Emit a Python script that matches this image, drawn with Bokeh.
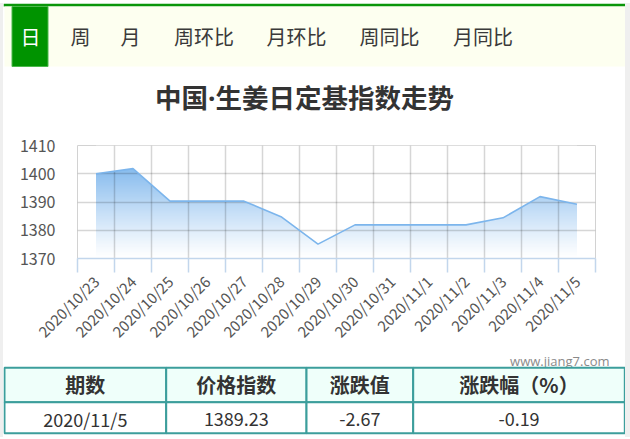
import math
import numpy as np
from bokeh.plotting import figure
from bokeh.layouts import column
from bokeh.models import Range1d, FixedTicker, LinearAxis, Grid
from bokeh.core.properties import value
from bokeh.embed import file_html
from bokeh.resources import INLINE

# ---------------- data ----------------
dates = ["2020/10/23", "2020/10/24", "2020/10/25", "2020/10/26", "2020/10/27",
         "2020/10/28", "2020/10/29", "2020/10/30", "2020/10/31", "2020/11/1",
         "2020/11/2", "2020/11/3", "2020/11/4", "2020/11/5"]
index_values = [1400.0, 1401.8, 1390.3, 1390.3, 1390.3, 1384.8, 1375.1,
                1381.9, 1381.9, 1381.9, 1381.9, 1384.4, 1391.90, 1389.23]
y_ticks = [1370, 1380, 1390, 1400, 1410]
tab_labels = ["日", "周", "月", "周环比", "月环比", "周同比", "月同比"]
title_text = "中国·生姜日定基指数走势"
table_headers = ["期数", "价格指数", "涨跌值", "涨跌幅（%）"]
table_row = ["2020/11/5", "1389.23", "-2.67", "-0.19"]
watermark = "www.jiang7.com"

# ---------------- layout / style ----------------
FONT = "Noto Sans CJK SC"
W = 622
GREEN = "#0a960a"
HDR_H = 122
CH_H = 226
TB_H = 86
FRAME_L, FRAME_R, FRAME_T, FRAME_H = 74, 30, 20, 113

def blank(fig):
    fig.grid.visible = False
    fig.outline_line_color = None
    fig.background_fill_color = "white"
    fig.border_fill_color = "white"

# ---- header: tabs + title ----
hdr = figure(width=W, height=HDR_H, x_range=Range1d(0, W), y_range=Range1d(HDR_H, 0),
             output_backend="svg", toolbar_location=None, min_border=0,
             x_axis_location=None, y_axis_location=None, frame_align=False)
blank(hdr)
hdr.quad(left=[0], right=[W], top=[0], bottom=[3], fill_color=GREEN, line_color=None)
hdr.quad(left=[1], right=[W], top=[3], bottom=[63], fill_color="#fdfff0", line_color=None)
hdr.quad(left=[8.5], right=[44.5], top=[3], bottom=[63], fill_color="#009300",
         line_color="#4cb84c", line_width=1)
tab_x = [27, 77, 127, 200.5, 293, 386, 479.5]
tab_colors = ["white"] + ["#3a3a3a"] * (len(tab_labels) - 1)
hdr.text(x=tab_x, y=[33] * len(tab_labels), text=tab_labels, text_align="center",
         text_baseline="middle", text_font=value(FONT), text_font_size="20px",
         text_color=tab_colors)
hdr.text(x=[301], y=[94.5], text=[title_text], text_align="center", text_baseline="middle",
         text_font=value("Noto Sans, Noto Sans CJK SC"), text_font_size="26.5px",
         text_font_style="bold", text_color="#333333")

# ---- chart ----
n = len(dates)
xs = [i + 0.5 for i in range(n)]
ch = figure(width=W, height=CH_H, x_range=Range1d(0, n), y_range=Range1d(y_ticks[0], y_ticks[-1]),
            output_backend="svg", toolbar_location=None,
            x_axis_location=None, y_axis_location=None, frame_align=False,
            min_border_left=FRAME_L, min_border_right=FRAME_R, min_border_top=FRAME_T,
            min_border_bottom=CH_H - FRAME_T - FRAME_H)
ch.grid.visible = False
ch.background_fill_color = "white"
ch.border_fill_color = "white"
ch.outline_line_color = "#d2d2d2"

# gradient fill under the curve: gradient image masked above the line
ymax = max(index_values)
rows = 256
t = np.linspace(0.0, 1.0, rows)
img = np.zeros((rows, 1), dtype=np.uint32)
view = img.view(dtype=np.uint8).reshape((rows, 1, 4))
view[:, 0, 0] = 124
view[:, 0, 1] = 181
view[:, 0, 2] = 236
view[:, 0, 3] = (np.clip(t, 0, 1) ** 1.1 * 235).astype(np.uint8)
ch.image_rgba(image=[img], x=xs[0], y=y_ticks[0], dw=xs[-1] - xs[0], dh=ymax - y_ticks[0],
              level="image")
ch.varea(x=xs, y1=index_values, y2=y_ticks[-1], fill_color="white", level="image")

grid_style = dict(grid_line_color="black", grid_line_alpha=0.16, grid_line_width=1.5)
ch.add_layout(Grid(dimension=0, ticker=FixedTicker(ticks=list(range(n + 1))), **grid_style))
ch.add_layout(Grid(dimension=1, ticker=FixedTicker(ticks=y_ticks), **grid_style))

ch.line(xs, index_values, line_color="#7cb5ec", line_width=1.6)

xax = LinearAxis(
    ticker=FixedTicker(ticks=xs, minor_ticks=list(range(n + 1))),
    major_label_overrides={x: d for x, d in zip(xs, dates)},
    major_label_orientation=math.pi / 4,
    major_tick_line_color=None, major_tick_out=0, major_tick_in=0,
    minor_tick_line_color="#c2d6ec", minor_tick_out=14, minor_tick_in=0, minor_tick_line_width=1.5,
    axis_line_color="#c2d6ec", axis_line_width=1.5,
    major_label_text_font=FONT, major_label_text_font_size="15px",
    major_label_text_color="#555555", major_label_standoff=6)
ch.add_layout(xax, "below")

yax = LinearAxis(
    ticker=FixedTicker(ticks=y_ticks),
    axis_line_color=None, major_tick_line_color=None, minor_tick_line_color=None,
    major_tick_out=0, major_tick_in=0,
    major_label_text_font=FONT, major_label_text_font_size="16px",
    major_label_text_color="#555555", major_label_standoff=22)
ch.add_layout(yax, "left")

# ---- watermark + table ----
tb = figure(width=W, height=TB_H, x_range=Range1d(0, W), y_range=Range1d(TB_H, 0),
            output_backend="svg", toolbar_location=None, min_border=0,
            x_axis_location=None, y_axis_location=None, frame_align=False)
blank(tb)
tb.text(x=[606], y=[0.5], text=[watermark], text_align="right", text_baseline="top",
        text_font=value("Open Sans"), text_font_size="13px", text_color="#8a8a8a")

col_edges = [1, 162.7, 303, 409.7, 621.3]
row_edges = [16.3, 50.7, 81.7]
lefts = col_edges[:-1]
rights = col_edges[1:]
centers = [(a + b) / 2 for a, b in zip(lefts, rights)]
TEAL = "#3c9e9c"
tb.quad(left=lefts, right=rights, top=[row_edges[0]] * 4, bottom=[row_edges[1]] * 4,
        fill_color="#effffa", line_color=TEAL, line_width=2)
tb.quad(left=lefts, right=rights, top=[row_edges[1]] * 4, bottom=[row_edges[2]] * 4,
        fill_color="white", line_color=TEAL, line_width=2)
tb.text(x=centers, y=[32.5] * 4, text=table_headers, text_align="center", text_baseline="middle",
        text_font=value(FONT), text_font_size="20px", text_font_style="bold", text_color="#333333")
tb.text(x=centers, y=[67] * 4, text=table_row, text_align="center", text_baseline="middle",
        text_font=value(FONT), text_font_size="18px", text_color="#333333")

layout = column(hdr, ch, tb, spacing=0, margin=(3, 0, 0, 3),
                styles={"box-shadow": "-3px 0 0 0 #efefef, 5px 0 0 0 #efefef"})

open("out.html", "w").write(file_html(layout, INLINE))
